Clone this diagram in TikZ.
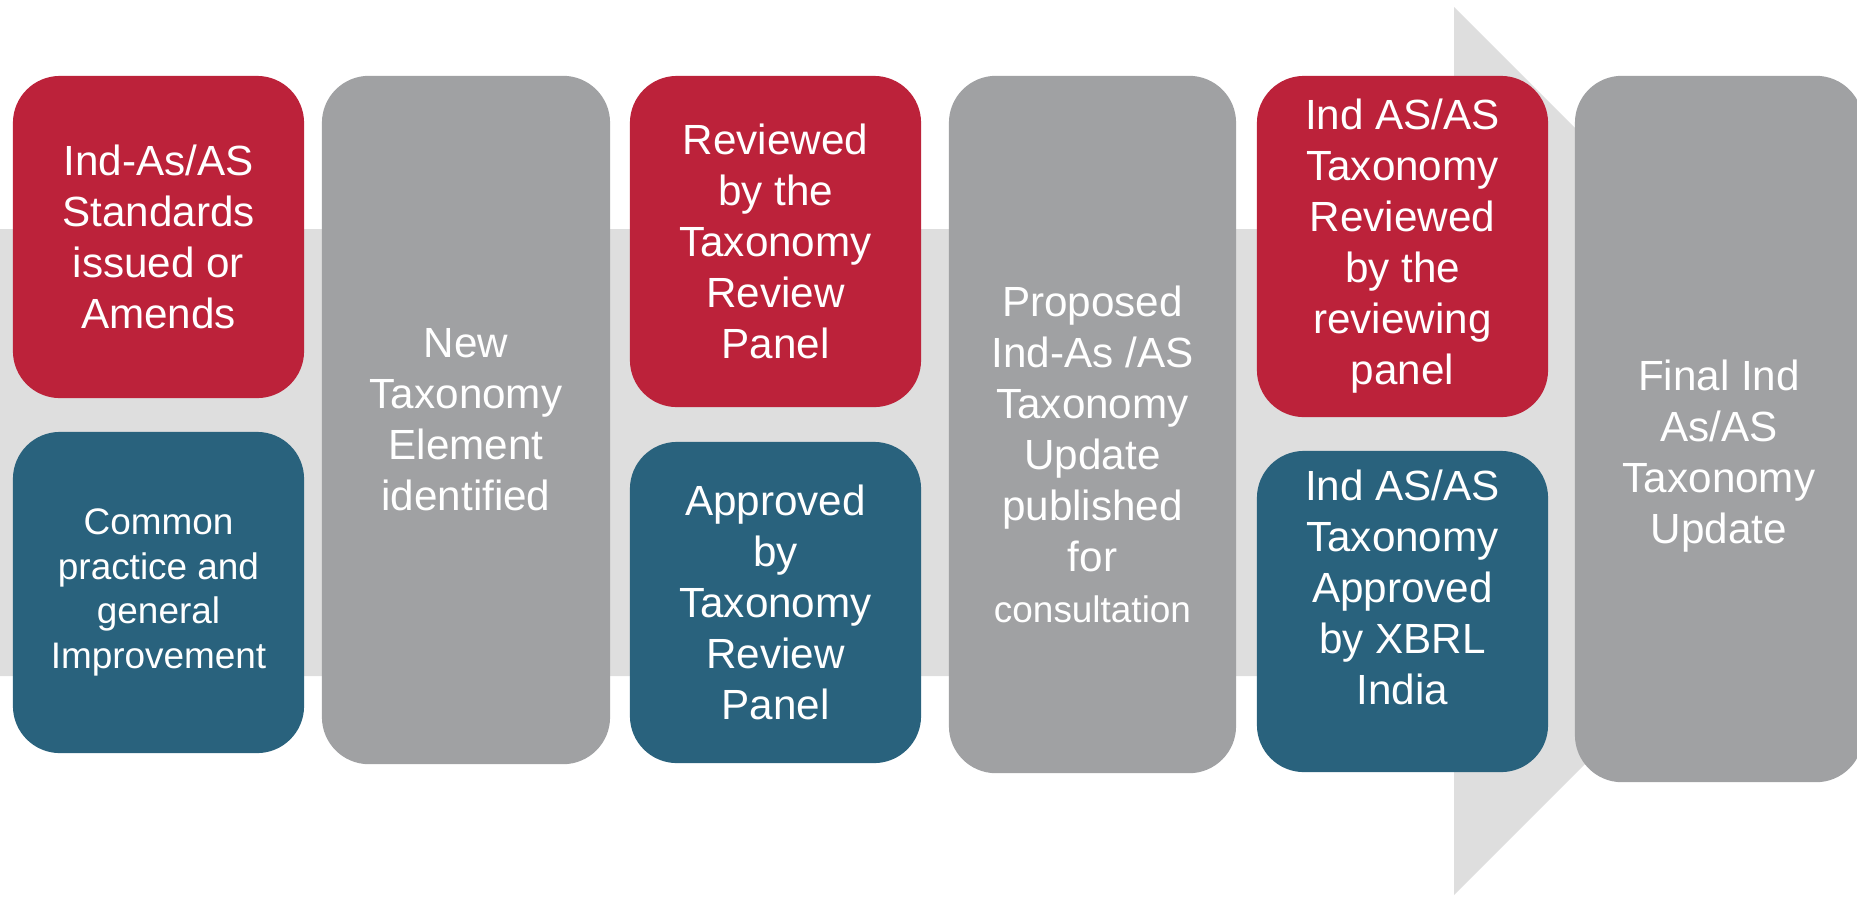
\documentclass[tikz,border=0pt]{standalone}
\usepackage{fontspec}
\setmainfont{Liberation Sans}
\definecolor{stepred}{HTML}{BC223A}
\definecolor{stepteal}{HTML}{29627D}
\definecolor{stepgray}{HTML}{A0A1A3}
\definecolor{bandgray}{HTML}{DEDEDE}
\begin{document}
\begin{tikzpicture}[x=0.01cm,y=-0.01cm,
    box/.style={rounded corners=0.47cm, inner sep=0pt, align=center, text=white,
      font=\fontsize{12}{14.5}\selectfont, minimum width=2.91cm},
    redbox/.style={box, fill=stepred},
    tealbox/.style={box, fill=stepteal},
    graybox/.style={box, fill=stepgray, minimum width=2.88cm},
    txt/.style={inner sep=0pt, align=center, text=white, font=\fontsize{12}{14.5}\selectfont}]
      \useasboundingbox (0,0) rectangle (1857,896);
      \clip (0,0) rectangle (1857,896);
      % arrow in the back
      \fill[bandgray] (0,229) -- (1454,229) -- (1454,7) -- (1898,451)
        -- (1454,895) -- (1454,676) -- (0,676) -- cycle;
      % column 1
      \node[redbox, minimum height=3.22cm] (std) at (158.5,237)
        {Ind-As/AS\\Standards\\issued or\\Amends};
      \node[tealbox, minimum height=3.21cm, font=\fontsize{10.5}{12.7}\selectfont] (common) at (158.5,592.5)
        {Common\\practice and\\general\\Improvement};
      % column 2
      \node[graybox, minimum height=6.88cm] (newel) at (466,420)
        {New\\Taxonomy\\Element\\identified};
      % column 3
      \node[redbox, minimum height=3.31cm] (revpanel) at (775.5,241.5)
        {Reviewed\\by the\\Taxonomy\\Review\\Panel};
      \node[tealbox, minimum height=3.21cm] (apppanel) at (775.5,602.5)
        {Approved\\by\\Taxonomy\\Review\\Panel};
      % column 4
      \node[graybox, minimum width=2.87cm, minimum height=6.97cm] (proposed) at (1092.5,424.5) {};
      \node[txt] (proposedtxt) at (1092.5,454)
        {Proposed\\Ind-As /AS\\Taxonomy\\Update\\published\\for\\{\fontsize{10.5}{12.7}\selectfont consultation}};
      % column 5
      \node[redbox, minimum height=3.41cm] (reviewed) at (1402.5,246.5)
        {Ind AS/AS\\Taxonomy\\Reviewed\\by the\\reviewing\\panel};
      \node[tealbox, minimum height=3.21cm] (approved) at (1402.5,611.5) {};
      \node[txt] (approvedtxt) at (1402.5,587)
        {Ind AS/AS\\Taxonomy\\Approved\\by XBRL\\India};
      % column 6
      \node[graybox, minimum height=7.06cm] (final) at (1719,429) {};
      \node[txt] (finaltxt) at (1719,456.5)
        {Final Ind\\As/AS\\Taxonomy\\Update};
\end{tikzpicture}
\end{document}
